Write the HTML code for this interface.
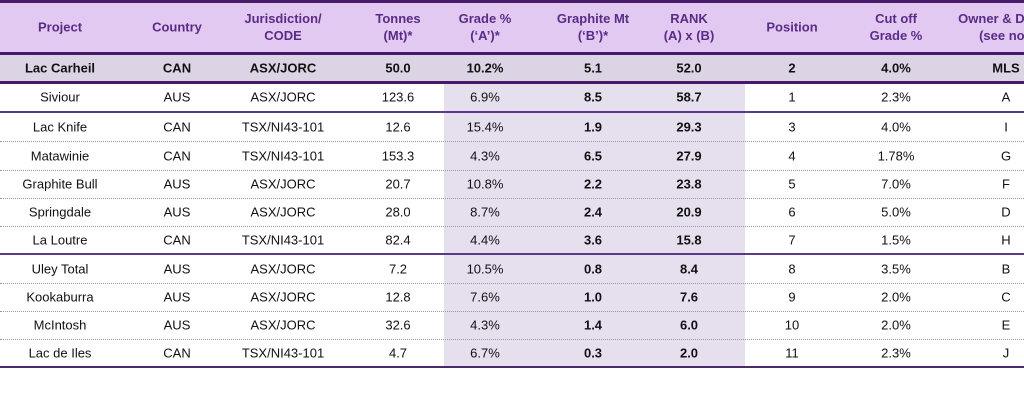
<!DOCTYPE html>
<html><head><meta charset="utf-8"><style>
html,body{margin:0;padding:0;width:1024px;height:400px;overflow:hidden;background:#fff;font-family:"Liberation Sans",Arial,sans-serif;}
.a{position:absolute;}
.t{position:absolute;transform:translate(-50%,-50%);white-space:nowrap;font-size:13px;color:#111;text-align:center;line-height:17px;}
.h{color:#5b2b86;font-weight:bold;}
.b{font-weight:bold;}
.dot{position:absolute;left:0;width:1024px;height:0;border-top:1px dotted #9a9a9a;}
</style></head><body>
<div class="a" style="left:0;top:0;width:1024px;height:53px;background:#e2c9f2"></div>
<div class="a" style="left:0;top:0;width:1024px;height:3px;background:#4a1a6a"></div>
<div class="a" style="left:0;top:52px;width:1024px;height:3px;background:#4a1a6a"></div>
<div class="a" style="left:0;top:55px;width:1024px;height:26px;background:#dcd4e5"></div>
<div class="a" style="left:0;top:81px;width:1024px;height:3px;background:#4a1a6a"></div>
<div class="a" style="left:444px;top:84px;width:301px;height:283px;background:#e6dfee"></div>
<div class="a" style="left:0;top:111px;width:1024px;height:2px;background:#5a3a8a"></div>
<div class="a" style="left:0;top:253px;width:1024px;height:2px;background:#5a3a8a"></div>
<div class="a" style="left:0;top:366px;width:1024px;height:2px;background:#4a2a6a"></div>
<div class="dot" style="top:141px"></div>
<div class="dot" style="top:170px"></div>
<div class="dot" style="top:198px"></div>
<div class="dot" style="top:226px"></div>
<div class="dot" style="top:283px"></div>
<div class="dot" style="top:311px"></div>
<div class="dot" style="top:339px"></div>

<div class="t h" style="left:60px;top:27px">Project</div>
<div class="t h" style="left:177px;top:27px">Country</div>
<div class="t h" style="left:283px;top:27px">Jurisdiction/<br>CODE</div>
<div class="t h" style="left:398px;top:27px">Tonnes<br>(Mt)*</div>
<div class="t h" style="left:485px;top:27px">Grade %<br>(‘A’)*</div>
<div class="t h" style="left:593px;top:27px">Graphite Mt<br>(‘B’)*</div>
<div class="t h" style="left:689px;top:27px">RANK<br>(A) x (B)</div>
<div class="t h" style="left:792px;top:27px">Position</div>
<div class="t h" style="left:896px;top:27px">Cut off<br>Grade %</div>
<div class="t h" style="left:1008px;top:27px">Owner &amp; Details<br>&nbsp;&nbsp;&nbsp;(see notes)</div>

<div class="t b" style="left:60px;top:68px">Lac Carheil</div>
<div class="t b" style="left:177px;top:68px">CAN</div>
<div class="t b" style="left:283px;top:68px">ASX/JORC</div>
<div class="t b" style="left:398px;top:68px">50.0</div>
<div class="t b" style="left:485px;top:68px">10.2%</div>
<div class="t b" style="left:593px;top:68px">5.1</div>
<div class="t b" style="left:689px;top:68px">52.0</div>
<div class="t b" style="left:792px;top:68px">2</div>
<div class="t b" style="left:896px;top:68px">4.0%</div>
<div class="t b" style="left:1006px;top:68px">MLS</div>

<div id="rows"></div>
<script>
var d=[[97,"Siviour","AUS","ASX/JORC","123.6","6.9%","8.5","58.7","1","2.3%","A"],
[127,"Lac Knife","CAN","TSX/NI43-101","12.6","15.4%","1.9","29.3","3","4.0%","I"],
[156,"Matawinie","CAN","TSX/NI43-101","153.3","4.3%","6.5","27.9","4","1.78%","G"],
[184,"Graphite Bull","AUS","ASX/JORC","20.7","10.8%","2.2","23.8","5","7.0%","F"],
[212,"Springdale","AUS","ASX/JORC","28.0","8.7%","2.4","20.9","6","5.0%","D"],
[240,"La Loutre","CAN","TSX/NI43-101","82.4","4.4%","3.6","15.8","7","1.5%","H"],
[269,"Uley Total","AUS","ASX/JORC","7.2","10.5%","0.8","8.4","8","3.5%","B"],
[297,"Kookaburra","AUS","ASX/JORC","12.8","7.6%","1.0","7.6","9","2.0%","C"],
[325,"McIntosh","AUS","ASX/JORC","32.6","4.3%","1.4","6.0","10","2.0%","E"],
[353,"Lac de Iles","CAN","TSX/NI43-101","4.7","6.7%","0.3","2.0","11","2.3%","J"]];
var xs=[60,177,283,398,485,593,689,792,896,1006],h="";
d.forEach(function(r){for(var i=0;i<10;i++){h+='<div class="t'+((i==5||i==6)?' b':'')+'" style="left:'+xs[i]+'px;top:'+r[0]+'px">'+r[i+1]+'</div>';}});
document.getElementById("rows").innerHTML=h;
</script>
</body></html>
